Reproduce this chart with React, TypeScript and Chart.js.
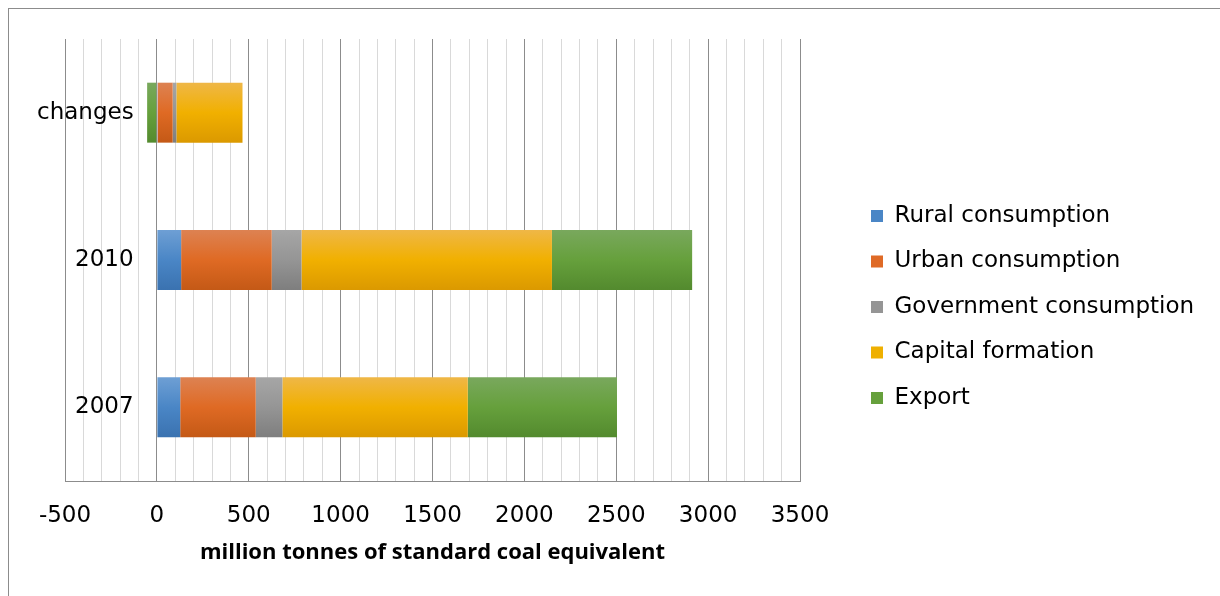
import React, { useEffect, useRef } from 'react';
import { Chart, registerables } from 'chart.js';

Chart.register(...registerables);

// ---- data ----
const categories = ['changes', '2010', '2007'];
const seriesNames = [
  'Rural consumption',
  'Urban consumption',
  'Government consumption',
  'Capital formation',
  'Export',
];
const rural = [4, 132, 127];
const urban = [82, 493, 411];
const government = [20, 162, 145];
const capital = [360, 1363, 1009];
const exportVals = [-53, 763, 812];

const xMin = -500;
const xMax = 3500;
const minorStep = 100;
const majorStep = 500;
const axisTitle = 'million tonnes of standard coal equivalent';

// ---- styles ----
const gradientStops = [
  ['#6e9fd4', '#4a86c6', '#3a72b0'],
  ['#dd8252', '#df6a24', '#c45916'],
  ['#a6a6a6', '#959595', '#7e7e7e'],
  ['#efb747', '#f1b000', '#db9900'],
  ['#79a85d', '#66a03c', '#538a2e'],
];
const legendColors = ['#4a86c6', '#df6a26', '#959595', '#efb000', '#66a03c'];
const MAJOR = '#8c8c8c';
const MINOR = '#d9d9d9';
const BAR_PCT = 0.407;
const FONT = 'DejaVu Sans';

function gradient(stops: string[]) {
  return (c: any) => {
    const chart = c.chart;
    const ys = chart.scales && chart.scales.y;
    const area = chart.chartArea;
    if (!ys || !area || c.dataIndex === undefined) return stops[1];
    const yc = ys.getPixelForValue(c.dataIndex);
    const half = (area.height / categories.length) * BAR_PCT / 2;
    const g = chart.ctx.createLinearGradient(0, yc - half, 0, yc + half);
    g.addColorStop(0, stops[0]);
    g.addColorStop(0.5, stops[1]);
    g.addColorStop(1, stops[2]);
    return g;
  };
}

const LEGEND_W = 412;
const LEGEND_SHIFT = 48.5;
const legendGap = {
  id: 'legendGap',
  beforeLayout(chart: any) {
    const leg = chart.legend;
    if (!leg || leg.__gapPatched) return;
    leg.__gapPatched = true;
    const fit = leg.fit;
    const draw = leg.draw;
    leg.fit = function () {
      fit.call(this);
      this.width = LEGEND_W;
    };
    leg.draw = function () {
      this.left += LEGEND_SHIFT;
      draw.call(this);
      this.left -= LEGEND_SHIFT;
    };
  },
};

export default function App() {
  const ref = useRef<HTMLCanvasElement | null>(null);

  useEffect(() => {
    if (!ref.current) return;
    const values = [rural, urban, government, capital, exportVals];
    const chart = new Chart(ref.current, {
      type: 'bar',
      data: {
        labels: categories,
        datasets: values.map((v, i) => ({
          label: seriesNames[i],
          data: v,
          backgroundColor: gradient(gradientStops[i]) as any,
          borderWidth: 0,
          barPercentage: BAR_PCT,
          categoryPercentage: 1,
          stack: 's',
        })),
      },
      plugins: [legendGap],
      options: {
        indexAxis: 'y',
        responsive: false,
        animation: false,
        devicePixelRatio: 1,
        layout: { padding: { left: 56, top: 30, right: 0, bottom: 13 } },
        plugins: {
          tooltip: { enabled: false },
          legend: {
            position: 'right',
            align: 'center',
            labels: {
              color: '#000',
              font: { family: FONT, size: 23 },
              boxWidth: 12,
              boxHeight: 12,
              padding: 22.5,
              generateLabels: (ch: any) =>
                ch.data.datasets.map((ds: any, i: number) => ({
                  text: ds.label,
                  fillStyle: legendColors[i],
                  strokeStyle: legendColors[i],
                  lineWidth: 0,
                  hidden: false,
                  datasetIndex: i,
                })),
            },
          },
        },
        scales: {
          x: {
            type: 'linear',
            min: xMin,
            max: xMax,
            stacked: true,
            afterFit: (s: any) => {
              s.height = 94;
            },
            ticks: {
              stepSize: minorStep,
              autoSkip: false,
              maxRotation: 0,
              minRotation: 0,
              padding: 21,
              color: '#000',
              font: { family: FONT, size: 23 },
              callback: (v: any) => (Number(v) % majorStep === 0 ? String(v) : ''),
            },
            grid: {
              drawTicks: false,
              lineWidth: 1,
              color: (c: any) =>
                c.tick && Math.round(c.tick.value) % majorStep === 0 ? MAJOR : MINOR,
            },
            border: { display: true, color: MAJOR, width: 1 },
            title: {
              display: true,
              text: axisTitle,
              color: '#000',
              font: { family: 'Open Sans', size: 22, weight: 'bold' },
              padding: { top: 0, bottom: 9 },
            },
          },
          y: {
            type: 'category',
            stacked: true,
            afterFit: (s: any) => {
              s.width = 0;
            },
            grid: { display: false, drawTicks: false },
            border: { display: false },
            ticks: {
              mirror: true,
              crossAlign: 'far',
              padding: -28,
              color: '#000',
              font: { family: FONT, size: 23 },
            },
          },
        },
      } as any,
    });
    return () => chart.destroy();
  }, []);

  return (
    <div
      style={{
        position: 'absolute',
        left: 8,
        top: 8,
        width: 1212,
        height: 588,
        boxSizing: 'border-box',
        borderLeft: '1px solid #8c8c8c',
        borderTop: '1px solid #8c8c8c',
        background: '#fff',
      }}
    >
      <canvas ref={ref} width={1203} height={579} style={{ display: 'block' }} />
    </div>
  );
}
